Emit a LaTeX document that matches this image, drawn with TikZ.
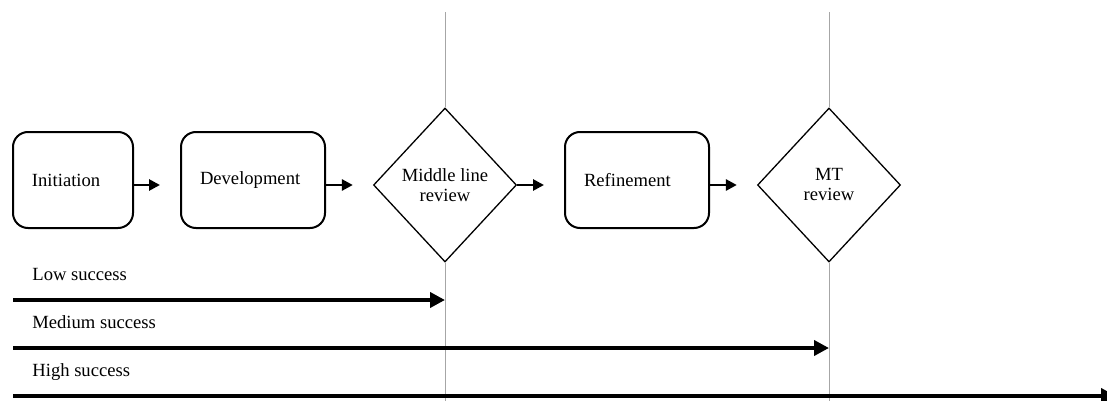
\documentclass[tikz,border=0pt]{standalone}
\usepackage{fontspec}
\setmainfont{Liberation Serif}
\usepackage{tikz}
\usetikzlibrary{arrows.meta,positioning,calc,shapes.geometric}
\tikzset{
  phase/.style    = {draw,line width=1pt,rounded corners=7.5pt,
                     minimum height=48pt,inner xsep=9.5pt,align=left},
  gate/.style     = {draw,diamond,line width=0.65pt,inner sep=0pt,
                     minimum width=71.5pt,minimum height=77pt,align=center},
  flowarr/.style  = {-{Triangle[length=5.5pt,width=5.5pt]},line width=1.35pt,
                     shorten >=10pt},
  track/.style    = {-{Triangle[length=7.5pt,width=7.5pt]},line width=2pt},
  milestone/.style= {draw=gray!70,line width=0.5pt},
  trklbl/.style   = {anchor=base west,inner sep=0pt},
}

\begin{document}
\begin{tikzpicture}[x=0.5pt,y=-0.5pt,font=\fontsize{9.3}{10}\selectfont]
  \useasboundingbox (0,0) rectangle (1107,401);
  \coordinate (top) at (0,12);
  \coordinate (bottom) at (0,401);
  % phases
  \node[phase,text width=41pt] (init)  at (73,180)  {Initiation};
  \node[phase,text width=53pt] (dev)   at (253,180) {Development};
  \node[gate]                  (mlr)   at (445,185) {Middle line\\review};
  \node[phase,text width=53pt] (refine) at (637,180) {Refinement};
  \node[gate]                  (mtr)   at (829,185) {MT\\review};
  \draw[flowarr] (init.east |- mlr) -- (dev.west |- mlr);
  \draw[flowarr] (dev.east |- mlr) -- (mlr.west);
  \draw[flowarr] (mlr.east) -- (refine.west |- mlr);
  \draw[flowarr] (refine.east |- mtr) -- (mtr.west);
  % milestone lines
  \draw[milestone] (mlr.north) -- (mlr.north |- top);
  \draw[milestone] (mlr.south) -- (mlr.south |- bottom);
  \draw[milestone] (mtr.north) -- (mtr.north |- top);
  \draw[milestone] (mtr.south) -- (mtr.south |- bottom);
  % success tracks
  \coordinate (lowstart) at (13,300);
  \coordinate (medstart) at (13,348);
  \coordinate (highstart) at (13,396);
  \coordinate (highend) at (1116,396);
  \node[trklbl] (lowlbl)  at (32,280) {Low success};
  \node[trklbl] (medlbl)  at (32,328) {Medium success};
  \node[trklbl] (highlbl) at (32,376) {High success};
  \draw[track] (lowstart) -- (lowstart -| mlr);
  \draw[track] (medstart) -- (medstart -| mtr);
  \draw[track] (highstart) -- (highend);
\end{tikzpicture}
\end{document}
